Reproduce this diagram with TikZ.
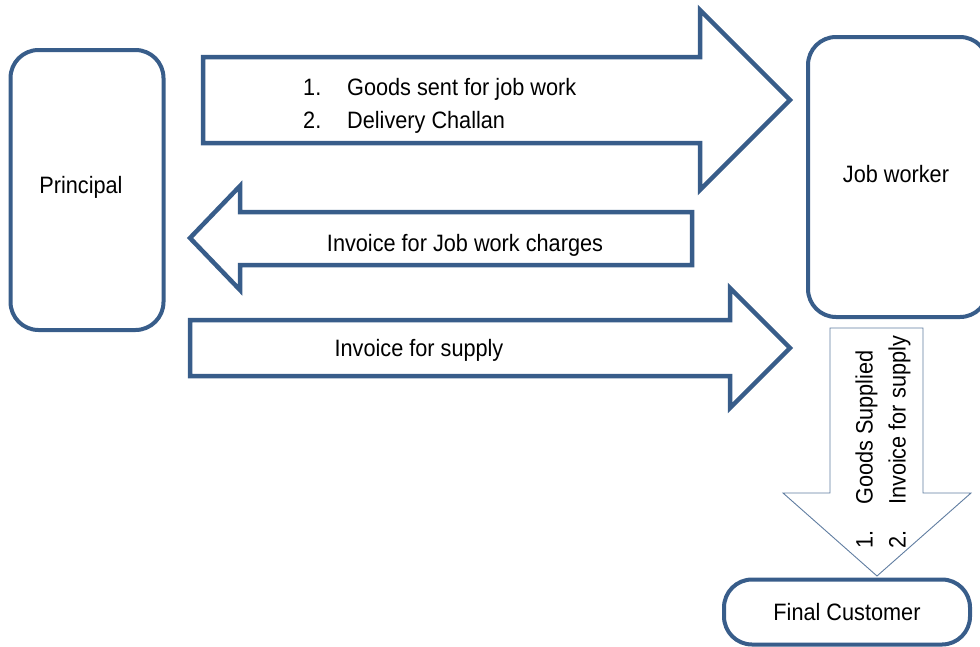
\documentclass[tikz,border=0pt]{standalone}
\usepackage{fontspec}
\setmainfont[FakeStretch=0.915]{Liberation Sans}
\definecolor{edge}{RGB}{56,93,138}
\begin{document}
\begin{tikzpicture}[x=1pt,y=-1pt,
  box/.style={draw=edge,line width=4pt,rounded corners=28pt,inner sep=0pt,fill=white},
  blockarrow/.style={draw=edge,line width=4.5pt,line join=miter,fill=white},
  thinarrow/.style={draw=edge!80,line width=0.9pt,line join=miter,fill=white},
  lbl/.style={font=\fontsize{23.7}{33}\selectfont,inner sep=0pt,align=left}]
\useasboundingbox (0,0) rectangle (980,646);
\clip (0,0) rectangle (980,646);

% boxes
\node[box,minimum width=153pt,minimum height=280pt] (principal) at (87,190) {};
\node[lbl] (principallbl) at (81,187) {Principal};
\node[box,minimum width=180pt,minimum height=280pt] (jobworker) at (898,177) {};
\node[lbl] (jobworkerlbl) at (896,174) {Job worker};
\node[box,lbl,minimum width=246pt,minimum height=65pt] (customer) at (847,612) {Final Customer};

% block arrows
\draw[blockarrow] (203,57) -- (700,57) -- (700,10) -- (790,100) -- (700,190) -- (700,143) -- (203,143) -- cycle;
\draw[blockarrow] (692,212) -- (240,212) -- (240,186) -- (190,238) -- (240,290) -- (240,265) -- (692,265) -- cycle;
\draw[blockarrow] (190,320) -- (730,320) -- (730,288) -- (790,348) -- (730,408) -- (730,376) -- (190,376) -- cycle;
\draw[thinarrow] (830,328) -- (923,328) -- (923,493) -- (971,493) -- (877,576) -- (783,493) -- (830,493) -- cycle;

% labels
\node[lbl,anchor=west] (list1) at (303,106) {\makebox[44pt][l]{1.}Goods sent for job work\\\makebox[44pt][l]{2.}Delivery Challan};
\node[lbl] (jobcharges) at (465,245) {Invoice for Job work charges};
\node[lbl] (supply) at (419,350) {Invoice for supply};
\node[lbl,rotate=90,anchor=west] (list2) at (883,549) {\makebox[44pt][l]{1.}Goods Supplied\\\makebox[44pt][l]{2.}Invoice for supply};
\end{tikzpicture}
\end{document}
